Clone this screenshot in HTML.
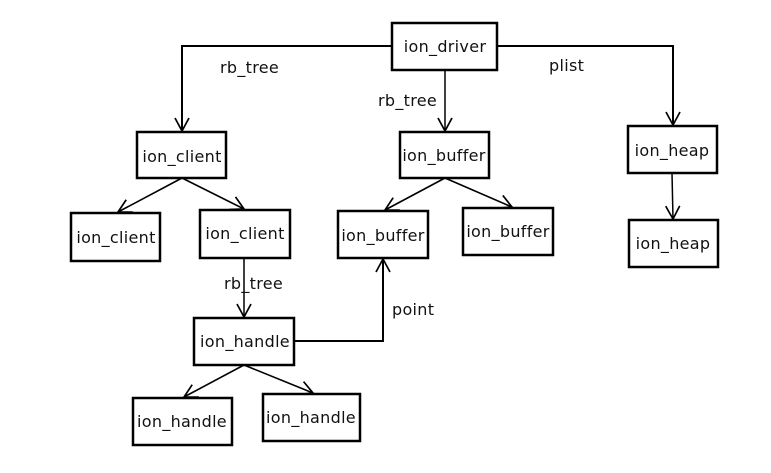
<!DOCTYPE html>
<html><head><meta charset="utf-8"><style>
html,body{margin:0;padding:0;background:#fff;}
svg{display:block;}
text{font-family:"DejaVu Sans","Liberation Sans",sans-serif;font-size:16px;letter-spacing:0.3px;fill:#111;}
</style></head><body>
<svg width="771" height="473" viewBox="0 0 771 473" xmlns="http://www.w3.org/2000/svg">
<defs>
<marker id="a" markerUnits="userSpaceOnUse" markerWidth="16" markerHeight="16" refX="14" refY="8" orient="auto">
<path d="M1,1 L14,8 L1,15" fill="none" stroke="#000" stroke-width="1.7"/>
</marker>
</defs>
<g fill="none" stroke="#000" stroke-width="2">
<polyline points="391,46 182,46 182,131" marker-end="url(#a)"/>
<line x1="445" y1="70" x2="445" y2="131" stroke-width="1.5" marker-end="url(#a)"/>
<polyline points="497,46 673,46 673,125" marker-end="url(#a)"/>
<line x1="182" y1="178" x2="118" y2="212" stroke-width="1.6" marker-end="url(#a)"/>
<line x1="182" y1="178" x2="244" y2="209" stroke-width="1.6" marker-end="url(#a)"/>
<line x1="445" y1="178" x2="385" y2="210" stroke-width="1.6" marker-end="url(#a)"/>
<line x1="445" y1="178" x2="512" y2="207" stroke-width="1.6" marker-end="url(#a)"/>
<line x1="672" y1="173" x2="673" y2="219" stroke-width="1.5" marker-end="url(#a)"/>
<line x1="244" y1="258" x2="244" y2="317" stroke-width="1.5" marker-end="url(#a)"/>
<polyline points="294,341 383,341 383,259" marker-end="url(#a)"/>
<line x1="244" y1="365" x2="184" y2="397" stroke-width="1.6" marker-end="url(#a)"/>
<line x1="244" y1="365" x2="313" y2="393" stroke-width="1.6" marker-end="url(#a)"/>
</g>
<g fill="#fff" stroke="#000" stroke-width="2.5">
<rect x="392" y="23" width="105" height="47"/>
<rect x="137" y="132" width="89" height="46"/>
<rect x="71" y="213" width="89" height="48"/>
<rect x="200" y="210" width="90" height="48"/>
<rect x="400" y="132" width="89" height="46"/>
<rect x="338" y="211" width="90" height="47"/>
<rect x="463" y="208" width="90" height="47"/>
<rect x="628" y="126" width="89" height="47"/>
<rect x="629" y="220" width="89" height="47"/>
<rect x="194" y="318" width="100" height="47"/>
<rect x="133" y="398" width="99" height="47"/>
<rect x="263" y="394" width="97" height="47"/>
</g>
<g text-anchor="middle">
<text x="445" y="52">ion_driver</text>
<text x="182" y="162">ion_client</text>
<text x="116" y="243">ion_client</text>
<text x="245" y="239">ion_client</text>
<text x="444" y="161">ion_buffer</text>
<text x="383" y="241">ion_buffer</text>
<text x="508" y="237">ion_buffer</text>
<text x="672" y="156">ion_heap</text>
<text x="673" y="249">ion_heap</text>
<text x="245" y="347">ion_handle</text>
<text x="182" y="427">ion_handle</text>
<text x="311" y="423">ion_handle</text>
</g>
<text x="220" y="73">rb_tree</text>
<text x="378" y="106">rb_tree</text>
<text x="549" y="71">plist</text>
<text x="224" y="289">rb_tree</text>
<text x="392" y="315">point</text>
</svg>
</body></html>
